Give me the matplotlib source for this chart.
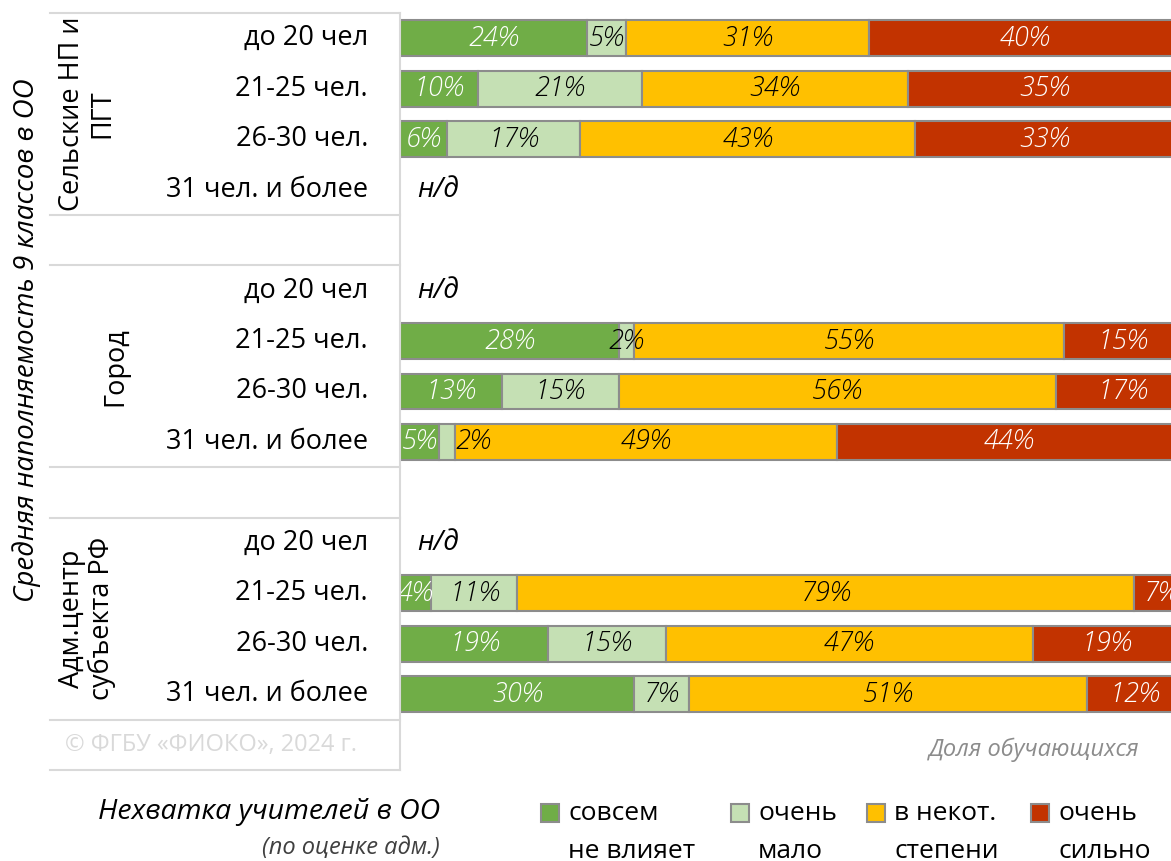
import matplotlib
matplotlib.use("Agg")
import matplotlib.pyplot as plt
from matplotlib.patches import Rectangle
import numpy as np

plt.rcParams['font.family'] = ['Open Sans', 'DejaVu Sans']

# данные (доли обучающихся, %)
groups = ["Сельские НП и\nПГТ", "Город", "Адм.центр\nсубъекта РФ"]
sizes = ["до 20 чел", "21-25 чел.", "26-30 чел.", "31 чел. и более"]
series_names = ["совсем\nне влияет", "очень\nмало", "в некот.\nстепени", "очень\nсильно"]
colors = ["#70ad47", "#c5e0b4", "#ffc000", "#c23300"]
label_colors = ["white", "black", "black", "white"]

# None = н/д
selo = [[24, 5, 31, 40], [10, 21, 34, 35], [6, 17, 43, 33], None]
gorod = [None, [28, 2, 55, 15], [13, 15, 56, 17], [5, 2, 49, 44]]
admc = [None, [4, 11, 79, 7], [19, 15, 47, 19], [30, 7, 51, 12]]
all_groups = [selo, gorod, admc]

W, H = 1171, 861
fig = plt.figure(figsize=(W / 100, H / 100), dpi=100)

top_px, bot_px = 13, 770
nrows = 15
ax = fig.add_axes([400 / W, 1 - bot_px / H, 1 - 400 / W, (bot_px - top_px) / H])
axl = fig.add_axes([50 / W, 1 - bot_px / H, 350 / W, (bot_px - top_px) / H])

for a in (ax, axl):
    a.set_ylim(nrows, 0)
    a.axis('off')
ax.set_xlim(0, 100 * 771 / 781)
axl.set_xlim(0, 350)

row = 0
for gi, gdata in enumerate(all_groups):
    for si, vals in enumerate(gdata):
        y = row + 0.5
        axl.text(318, y, sizes[si], ha='right', va='center', fontsize=19.5)
        if vals is None:
            ax.text(2.2, y, "н/д", ha='left', va='center', fontsize=20,
                    style='italic', fontweight='medium', color='black')
        else:
            left = 0
            for k, v in enumerate(vals):
                ax.barh(y, v, left=left, height=0.71, color=colors[k],
                        edgecolor='#8c8c8c', linewidth=1.5)
                # узкий сегмент после узкого — подпись справа от него
                if k > 0 and v <= 2 and vals[k - 1] <= 5:
                    ax.text(left + v + 0.1, y, f"{v}%", ha='left', va='center',
                            fontsize=19.5, style='italic', fontweight='light',
                            color=label_colors[k])
                else:
                    ax.text(left + v / 2, y, f"{v}%", ha='center', va='center',
                            fontsize=19.5, style='italic', fontweight='light',
                            color=label_colors[k])
                left += v
        row += 1
    row += 1

# разделители таблицы слева
for yl in [0, 4, 5, 9, 10, 14, 15]:
    axl.plot([0, 350], [yl, yl], color='#d9d9d9', lw=1.5, clip_on=False)
axl.plot([349.5, 349.5], [0, 15], color='#d9d9d9', lw=1.5, clip_on=False)

# названия групп
axl.text(37, 2.0, groups[0], rotation=90, ha='center', va='center',
         fontsize=19.5, linespacing=1.1)
axl.text(65, 7.0, groups[1], rotation=90, ha='center', va='center', fontsize=19.5)
axl.text(37, 12.0, groups[2], rotation=90, ha='center', va='center',
         fontsize=19.5, linespacing=1.1)

axl.text(15, 14.5, "© ФГБУ «ФИОКО», 2024 г.", ha='left', va='center',
         fontsize=17, color='#d9d9d9')

fig.text(27 / W, 1 - 340 / H, "Средняя наполняемость 9 классов в ОО",
         rotation=90, ha='center', va='center', fontsize=20, style='italic')

fig.text(1140 / W, 1 - 750 / H, "Доля обучающихся", ha='right', va='center',
         fontsize=17, style='italic', color='#8c8c8c')

# легенда
fig.text(440 / W, 1 - 812 / H, "Нехватка учителей в ОО", ha='right', va='center',
         fontsize=20.5, style='italic')
fig.text(440 / W, 1 - 848 / H, "(по оценке адм.)", ha='right', va='center',
         fontsize=17, style='italic', color='#404040')

leg_x = [541, 731, 867, 1031]
for k, name in enumerate(series_names):
    fig.add_artist(Rectangle((leg_x[k] / W, 1 - 822 / H), 18 / W, 18 / H,
                             facecolor=colors[k], edgecolor='#8c8c8c', lw=1.5,
                             transform=fig.transFigure))
    l1, l2 = name.split("\n")
    fig.text((leg_x[k] + 27) / W, 1 - 813 / H, l1, ha='left', va='center', fontsize=19)
    fig.text((leg_x[k] + 27) / W, 1 - 851 / H, l2, ha='left', va='center', fontsize=19)

fig.savefig("out.png", dpi=100)
